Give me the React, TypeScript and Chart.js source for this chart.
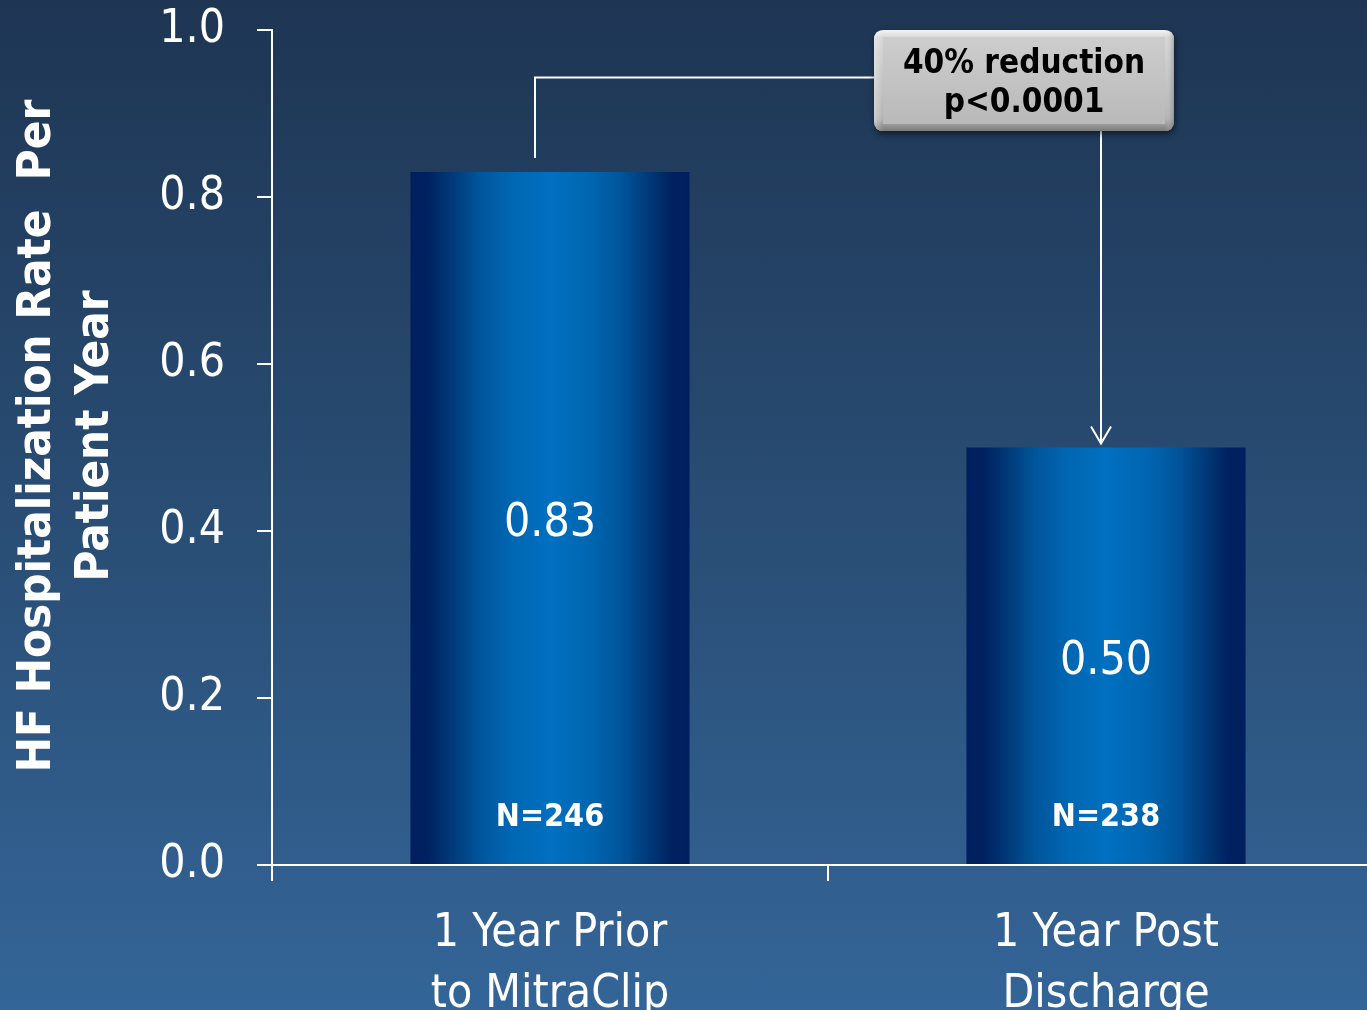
import React, { useEffect, useRef } from "react";
import { Chart, registerables } from "chart.js";

Chart.register(...registerables);

// ---- data ----
const categories: string[][] = [
  ["1 Year Prior", "to MitraClip"],
  ["1 Year Post", "Discharge"],
];
const rates: number[] = [0.83, 0.5];
const sampleSizes: number[] = [246, 238];
const yMin = 0;
const yMax = 1;
const yStep = 0.2;
const axisTitleLines: string[] = ["HF Hospitalization Rate  Per", "Patient Year"];
const calloutLines: string[] = ["40% reduction", "p<0.0001"];

// ---- look ----
const FONT = "'DejaVu Sans Condensed', 'DejaVu Sans', sans-serif";
const CANVAS_W = 1384;
const CANVAS_H = 1010;
const CAT_PCT = 0.502;

function barGradient(ctx: CanvasRenderingContext2D, x0: number, x1: number) {
  const g = ctx.createLinearGradient(x0, 0, x1, 0);
  g.addColorStop(0, "#001f5e");
  g.addColorStop(0.06, "#00215f");
  g.addColorStop(0.15, "#003a7a");
  g.addColorStop(0.25, "#00569c");
  g.addColorStop(0.36, "#0066b2");
  g.addColorStop(0.5, "#0070c0");
  g.addColorStop(0.64, "#0066b2");
  g.addColorStop(0.75, "#00569c");
  g.addColorStop(0.85, "#003a7a");
  g.addColorStop(0.94, "#00215f");
  g.addColorStop(1, "#001f5e");
  return g;
}

function roundRect(ctx: CanvasRenderingContext2D, x: number, y: number, w: number, h: number, r: number) {
  ctx.beginPath();
  ctx.moveTo(x + r, y);
  ctx.lineTo(x + w - r, y);
  ctx.quadraticCurveTo(x + w, y, x + w, y + r);
  ctx.lineTo(x + w, y + h - r);
  ctx.quadraticCurveTo(x + w, y + h, x + w - r, y + h);
  ctx.lineTo(x + r, y + h);
  ctx.quadraticCurveTo(x, y + h, x, y + h - r);
  ctx.lineTo(x, y + r);
  ctx.quadraticCurveTo(x, y, x + r, y);
  ctx.closePath();
}

// Rotated two-line y-axis title
const axisTitlePlugin = {
  id: "axisTitle",
  afterDraw(chart: any) {
    const { ctx } = chart;
    ctx.save();
    ctx.fillStyle = "#ffffff";
    ctx.font = `bold 47px ${FONT}`;
    ctx.textAlign = "center";
    ctx.textBaseline = "middle";
    const cy = 436;
    axisTitleLines.forEach((line, i) => {
      ctx.save();
      ctx.translate(38 + i * 58, cy);
      ctx.rotate(-Math.PI / 2);
      ctx.fillText(line, 0, 0);
      ctx.restore();
    });
    ctx.restore();
  },
};

// Value and sample-size labels inside the bars
const barLabelPlugin = {
  id: "barLabels",
  afterDatasetsDraw(chart: any) {
    const { ctx } = chart;
    const meta = chart.getDatasetMeta(0);
    ctx.save();
    ctx.fillStyle = "#ffffff";
    ctx.textAlign = "center";
    ctx.textBaseline = "middle";
    meta.data.forEach((bar: any, i: number) => {
      const mid = (bar.y + bar.base) / 2;
      ctx.font = `46px ${FONT}`;
      ctx.fillText(rates[i].toFixed(2), bar.x, mid + 6);
      ctx.font = `bold 32px ${FONT}`;
      ctx.fillText(`N=${sampleSizes[i]}`, bar.x, bar.base - 46);
    });
    ctx.restore();
  },
};

// Callout box with connector from the first bar and arrow onto the second
const calloutPlugin = {
  id: "callout",
  afterDraw(chart: any) {
    const { ctx } = chart;
    const y = chart.scales.y;
    const meta = chart.getDatasetMeta(0);
    const b1 = meta.data[0];
    const b2 = meta.data[1];

    const arrowX = b2.x - 5;
    const boxL = arrowX - 227;
    const boxR = arrowX + 73;
    const boxT = y.getPixelForValue(1.0);
    const boxB = y.getPixelForValue(0.879);
    const bracketY = y.getPixelForValue(0.943);
    const leftX = b1.x - 15;

    ctx.save();
    ctx.strokeStyle = "#ffffff";
    ctx.lineWidth = 2;
    // connector from first bar
    ctx.beginPath();
    ctx.moveTo(leftX, b1.y - 14);
    ctx.lineTo(leftX, bracketY);
    ctx.lineTo(boxL + 2, bracketY);
    ctx.stroke();
    // arrow down to second bar
    const tip = b2.y - 4;
    ctx.beginPath();
    ctx.moveTo(arrowX, boxB);
    ctx.lineTo(arrowX, tip);
    ctx.stroke();
    ctx.beginPath();
    ctx.moveTo(arrowX - 10, tip - 17);
    ctx.lineTo(arrowX, tip);
    ctx.lineTo(arrowX + 10, tip - 17);
    ctx.stroke();

    // box with bevel
    const w = boxR - boxL;
    const h = boxB - boxT;
    ctx.save();
    ctx.shadowColor = "rgba(0,0,0,0.55)";
    ctx.shadowBlur = 6;
    ctx.shadowOffsetY = 3;
    ctx.shadowOffsetX = 1;
    roundRect(ctx, boxL, boxT, w, h, 10);
    ctx.fillStyle = "#b5b5b5";
    ctx.fill();
    ctx.restore();

    const outer = ctx.createLinearGradient(0, boxT, 0, boxB);
    outer.addColorStop(0, "#f4f4f4");
    outer.addColorStop(0.08, "#d6d6d6");
    outer.addColorStop(0.88, "#b3b3b3");
    outer.addColorStop(1, "#7c7c7c");
    roundRect(ctx, boxL, boxT, w, h, 10);
    ctx.fillStyle = outer;
    ctx.fill();

    const side = ctx.createLinearGradient(boxL, 0, boxR, 0);
    side.addColorStop(0, "rgba(255,255,255,0.35)");
    side.addColorStop(0.03, "rgba(255,255,255,0)");
    side.addColorStop(0.97, "rgba(255,255,255,0)");
    side.addColorStop(1, "rgba(90,90,90,0.35)");
    roundRect(ctx, boxL, boxT, w, h, 10);
    ctx.fillStyle = side;
    ctx.fill();

    const face = ctx.createLinearGradient(0, boxT + 7, 0, boxB - 7);
    face.addColorStop(0, "#cdcdcd");
    face.addColorStop(1, "#b9b9b9");
    ctx.fillStyle = face;
    ctx.fillRect(boxL + 9, boxT + 7, w - 18, h - 14);

    ctx.fillStyle = "#000000";
    ctx.font = `bold 33px ${FONT}`;
    ctx.textAlign = "center";
    ctx.textBaseline = "middle";
    const cx = (boxL + boxR) / 2;
    ctx.fillText(calloutLines[0], cx, boxT + 34);
    ctx.fillText(calloutLines[1], cx, boxT + 73);
    ctx.restore();
  },
};

export default function App() {
  const canvasRef = useRef<HTMLCanvasElement | null>(null);

  useEffect(() => {
    const canvas = canvasRef.current;
    if (!canvas) return;
    const chart = new Chart(canvas, {
      type: "bar",
      data: {
        labels: categories,
        datasets: [
          {
            data: rates,
            barPercentage: 1,
            categoryPercentage: CAT_PCT,
            borderWidth: 0,
            backgroundColor: (c: any) => {
              const ch = c.chart;
              const xs = ch.scales?.x;
              if (!ch.chartArea || !xs || c.type !== "data") return "#0070c0";
              const cx = xs.getPixelForValue(c.dataIndex);
              const half = ((xs.width / categories.length) * CAT_PCT) / 2;
              return barGradient(ch.ctx, cx - half, cx + half);
            },
          },
        ],
      },
      options: {
        responsive: false,
        animation: false,
        devicePixelRatio: 1,
        layout: { padding: { top: 30, left: 0, right: 0, bottom: 0 } },
        plugins: {
          legend: { display: false },
          tooltip: { enabled: false },
        },
        scales: {
          x: {
            z: 1,
            afterFit: (s: any) => {
              s.height = 145;
              s.paddingLeft = 0;
              s.paddingRight = 0;
            },
            grid: {
              offset: true,
              drawOnChartArea: false,
              drawTicks: true,
              tickLength: 16,
              color: "#ffffff",
              lineWidth: 2,
            },
            border: { display: true, color: "#ffffff", width: 2 },
            ticks: {
              color: "#ffffff",
              padding: 23,
              font: { family: FONT, size: 46, lineHeight: "61px" as any },
              maxRotation: 0,
              autoSkip: false,
            },
          },
          y: {
            min: yMin,
            max: yMax,
            afterFit: (s: any) => {
              s.width = 272;
              s.paddingTop = 0;
              s.paddingBottom = 0;
            },
            grid: {
              drawOnChartArea: false,
              drawTicks: true,
              tickLength: 15,
              color: "#ffffff",
              lineWidth: 2,
            },
            border: { display: true, color: "#ffffff", width: 2 },
            ticks: {
              stepSize: yStep,
              color: "#ffffff",
              padding: 32,
              font: { family: FONT, size: 46 },
              callback: (v: any) => Number(v).toFixed(1),
            },
          },
        },
      },
      plugins: [barLabelPlugin, calloutPlugin, axisTitlePlugin],
    });
    return () => chart.destroy();
  }, []);

  return (
    <div
      style={{
        position: "fixed",
        left: 0,
        top: 0,
        width: 1367,
        height: 1010,
        overflow: "hidden",
        background: "linear-gradient(to bottom, #1e3553 0%, #2a4f77 55%, #346598 100%)",
      }}
    >
      <canvas
        ref={canvasRef}
        width={CANVAS_W}
        height={CANVAS_H}
        style={{ display: "block", width: CANVAS_W, height: CANVAS_H }}
      />
    </div>
  );
}
